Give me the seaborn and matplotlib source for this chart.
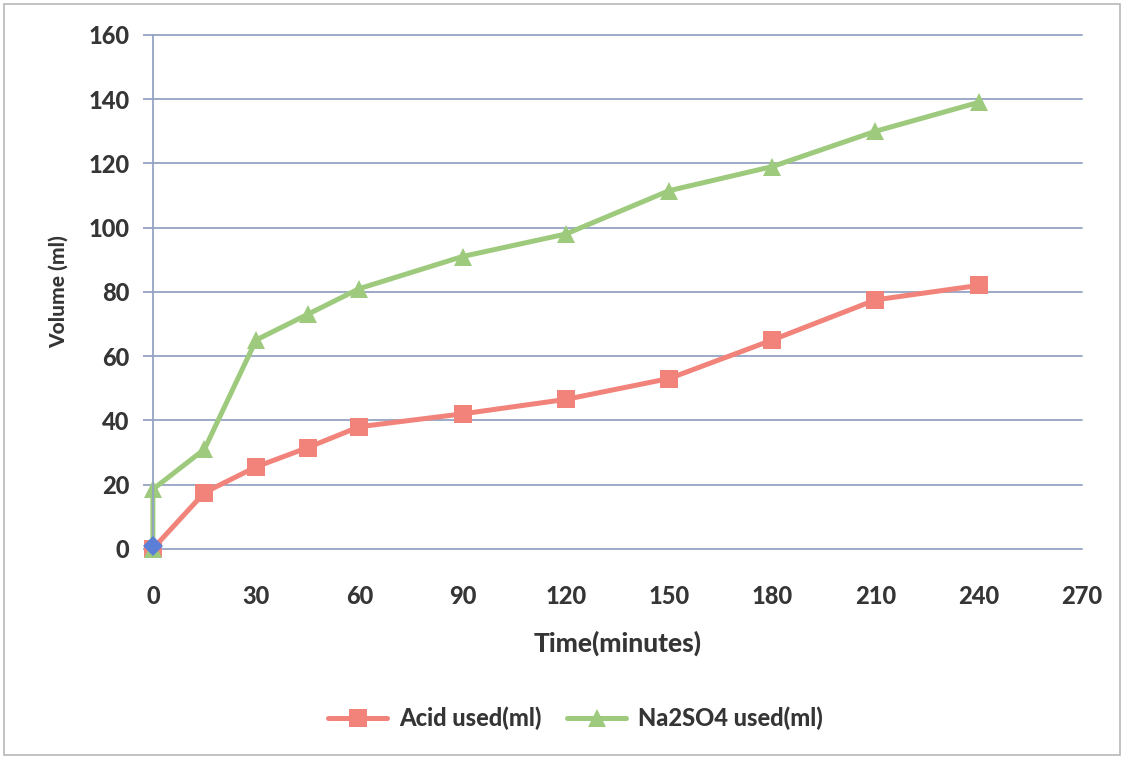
import numpy as np
import pandas as pd
import matplotlib
matplotlib.use("Agg")
import matplotlib.pyplot as plt
import seaborn as sns
from matplotlib.patches import Rectangle

# Sampling times (minutes) and volumes (ml)
acid_time = [0, 15, 30, 45, 60, 90, 120, 150, 180, 210, 240]
acid_vol = [0, 17.5, 25.5, 31.5, 38, 42, 46.5, 53, 65, 77.5, 82]

na2so4_time = [0, 0, 15, 30, 45, 60, 90, 120, 150, 180, 210, 240]
na2so4_vol = [0, 18.5, 31, 65, 73, 81, 91, 98, 111.5, 119, 130, 139]

start_time = [0]
start_vol = [1]

x_ticks = [0, 30, 60, 90, 120, 150, 180, 210, 240, 270]
y_ticks = [0, 20, 40, 60, 80, 100, 120, 140, 160]

series_names = ["Acid used(ml)", "Na2SO4 used(ml)"]

sns.set_theme(style="white")
plt.rcParams["font.family"] = ["Lato", "DejaVu Sans"]

text_color = "#353535"
grid_color = "#94a3c4"
red = "#f2837b"
green = "#9dca7c"
weight = "black"

df = pd.concat([
    pd.DataFrame({"time": acid_time, "vol": acid_vol, "series": series_names[0]}),
    pd.DataFrame({"time": na2so4_time, "vol": na2so4_vol, "series": series_names[1]}),
], ignore_index=True)

fig = plt.figure(figsize=(11.24, 7.59), dpi=100)
ax = fig.add_axes([0.136, 0.277, 0.8266, 0.677])

# outer chart frame
fig.patches.append(Rectangle((0.004, 0.005), 0.992, 0.99, transform=fig.transFigure,
                             fill=False, edgecolor="#b8b8b8", linewidth=1.2))

sns.lineplot(data=df, x="time", y="vol", hue="series", style="series",
             sort=False, estimator=None,
             palette=[red, green], markers=["s", "^"], dashes=False,
             linewidth=3.6, markersize=13, markeredgewidth=0, ax=ax, legend=True)
for ln in ax.get_lines():
    ln.set_clip_on(False)

handles, labels = ax.get_legend_handles_labels()
ax.get_legend().remove()

ax.plot(start_time, start_vol, marker="D", color="#5b7fd6", markersize=10,
        markeredgewidth=0, linestyle="none", zorder=6, clip_on=False)

ax.set_xlim(0, 270)
ax.set_ylim(0, 160)
ax.set_xticks(x_ticks)
ax.set_yticks(y_ticks)
ax.set_xticklabels([str(v) for v in x_ticks])
ax.set_yticklabels([str(v) for v in y_ticks])

for v in y_ticks:
    ax.axhline(v, color=grid_color, linewidth=1.3, zorder=0, clip_on=False)

for side in ["top", "right", "bottom"]:
    ax.spines[side].set_visible(False)
ax.spines["left"].set_color(grid_color)
ax.spines["left"].set_linewidth(1.3)

ax.tick_params(axis="y", which="major", left=True, length=7, width=1.3,
               color=grid_color, labelsize=17, labelcolor=text_color, pad=10)
ax.tick_params(axis="x", which="major", bottom=False, labelsize=17,
               labelcolor=text_color, pad=20)
for lbl in ax.get_xticklabels() + ax.get_yticklabels():
    lbl.set_fontweight(weight)

ax.set_xlabel("Time(minutes)", fontsize=19, fontweight=weight, color=text_color,
              labelpad=16)
ax.set_ylabel("Volume (ml)", fontsize=15, fontweight=weight, color=text_color,
              labelpad=14)

fig.legend(handles, labels, loc="center", bbox_to_anchor=(0.512, 0.054),
           ncol=2, frameon=False, handlelength=2.5, handletextpad=0.5,
           columnspacing=1.1, labelcolor=text_color,
           prop={"weight": weight, "size": 17})

fig.savefig("out.png", dpi=100, facecolor="white")
